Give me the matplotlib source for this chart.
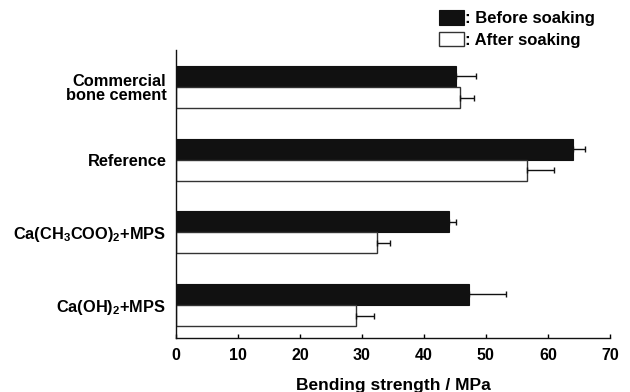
import matplotlib
matplotlib.use("Agg")
import matplotlib.pyplot as plt
from matplotlib.patches import Patch

plt.rcParams['font.family'] = ['Liberation Sans', 'DejaVu Sans']
plt.rcParams['font.weight'] = 'bold'
plt.rcParams['mathtext.fontset'] = 'custom'
plt.rcParams['mathtext.bf'] = 'Liberation Sans:bold'
plt.rcParams['mathtext.rm'] = 'Liberation Sans:bold'
plt.rcParams['mathtext.default'] = 'bf'

categories = ['Commercial\nbone cement', 'Reference',
              r'Ca(CH$_3$COO)$_2$+MPS', r'Ca(OH)$_2$+MPS']
before = [45.1, 64.0, 44.0, 47.2]
before_err = [3.3, 2.0, 1.1, 6.0]
after = [45.9, 56.7, 32.5, 29.0]
after_err = [2.2, 4.3, 2.1, 3.0]
xticks = [0, 10, 20, 30, 40, 50, 60, 70]

fig = plt.figure(figsize=(6.3, 3.92), dpi=100)
ax = fig.add_axes([0.2794, 0.1378, 0.968 - 0.2794, 0.8724 - 0.1378])

n = len(categories)
pos = [n - 1 - i for i in range(n)]
h = 0.29

ax.barh([p + h / 2 for p in pos], before, height=h, color='#111111',
        edgecolor='#111111', linewidth=0.8,
        xerr=[[0] * n, before_err], error_kw=dict(ecolor='#111111', elinewidth=1, capsize=2, capthick=1))
ax.barh([p - h / 2 for p in pos], after, height=h, color='white',
        edgecolor='#333333', linewidth=1.0,
        xerr=[[0] * n, after_err], error_kw=dict(ecolor='#111111', elinewidth=1, capsize=2, capthick=1))

ax.set_xlim(0, 70)
ax.set_ylim(-0.454, 3.509)
ax.set_xticks(xticks)
ax.set_xticklabels([str(t) for t in xticks], fontsize=11.5, fontweight='bold')
ax.set_yticks(pos)
ax.set_yticklabels(categories, fontsize=11.8, fontweight='bold', linespacing=0.95)
ax.tick_params(axis='y', length=0, pad=7)
ax.tick_params(axis='x', direction='in', length=3, width=1, pad=7)
for s in ['top', 'right']:
    ax.spines[s].set_visible(False)
for s in ['left', 'bottom']:
    ax.spines[s].set_linewidth(1.0)
    ax.spines[s].set_color('#111111')
ax.set_xlabel('Bending strength / MPa', fontsize=12.5, fontweight='bold', labelpad=11)

handles = [Patch(facecolor='#111111', edgecolor='#111111', linewidth=0.8),
           Patch(facecolor='white', edgecolor='#333333', linewidth=1.0)]
fig.legend(handles, [': Before soaking', ': After soaking'],
           loc='upper left', bbox_to_anchor=(436 / 630, 1 - 7 / 392),
           frameon=False, fontsize=12, handlelength=1.5, handleheight=1.0,
           handletextpad=0.05, labelspacing=0.3, borderaxespad=0, borderpad=0.2)

fig.savefig('out.png', dpi=100)
